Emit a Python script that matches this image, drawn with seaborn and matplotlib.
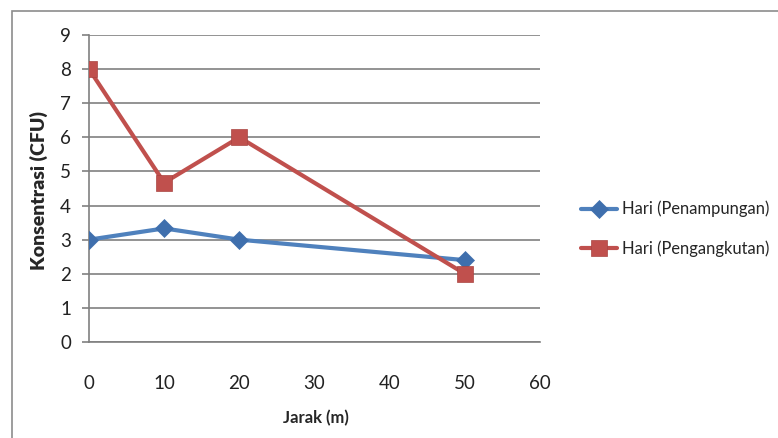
import matplotlib
matplotlib.use("Agg")
import matplotlib.pyplot as plt
from matplotlib.patches import Rectangle
import pandas as pd
import seaborn as sns

# Distance from source (m)
jarak = [0, 10, 20, 50]
# Concentration (CFU) per stage
penampungan = [3.0, 3.33, 3.0, 2.4]
pengangkutan = [8.0, 4.67, 6.0, 2.0]

series_names = ["Hari (Penampungan)", "Hari (Pengangkutan)"]
x_ticks = [0, 10, 20, 30, 40, 50, 60]
y_ticks = [0, 1, 2, 3, 4, 5, 6, 7, 8, 9]

df = pd.DataFrame({
    "Jarak": jarak * 2,
    "Konsentrasi": penampungan + pengangkutan,
    "Seri": [series_names[0]] * len(jarak) + [series_names[1]] * len(jarak),
})

sns.set_theme(style="white")
plt.rcParams["font.family"] = ["Lato", "DejaVu Sans"]

fig = plt.figure(figsize=(7.78, 4.38), dpi=100)
ax = fig.add_axes([89 / 778, 1 - 342 / 438, (540 - 89) / 778, (342 - 35) / 438])

# Chart-area frame
fig.patches.append(Rectangle((12 / 778, -0.05), 1.0, 1 - 11 / 438 + 0.05,
                             transform=fig.transFigure, fill=False,
                             edgecolor="#8c8c8c", linewidth=1.2, zorder=0))

styles = {
    series_names[0]: dict(color="#4F81BD", marker="D", ms=9, mfc="#3F6FAD", mec="#3F6FAD"),
    series_names[1]: dict(color="#C0504D", marker="s", ms=11, mfc="#C0504D", mec="#A94441"),
}

for name in series_names:
    sub = df[df["Seri"] == name]
    st = styles[name]
    sns.lineplot(data=sub, x="Jarak", y="Konsentrasi", ax=ax, label=name,
                 color=st["color"], linewidth=3, marker=st["marker"],
                 markersize=st["ms"], markerfacecolor=st["mfc"],
                 markeredgecolor=st["mec"], markeredgewidth=0.5, zorder=3)

ax.set_xlim(0, 60)
ax.set_ylim(0, 9)
ax.set_xticks(x_ticks)
ax.set_yticks(y_ticks)
ax.grid(axis="y", color="#808080", linewidth=1.2)
ax.set_axisbelow(True)
for side in ["top", "right"]:
    ax.spines[side].set_visible(False)
for side in ["left", "bottom"]:
    ax.spines[side].set_color("#808080")
    ax.spines[side].set_linewidth(1.2)

ax.tick_params(axis="y", which="major", left=True, length=5, width=1.2,
               color="#808080", pad=8, labelsize=13.5, labelcolor="#222222")
ax.tick_params(axis="x", which="major", bottom=False, pad=18,
               labelsize=13.5, labelcolor="#222222")

ax.set_xlabel("Jarak (m)", fontsize=12, fontweight="bold", labelpad=10)
ax.set_ylabel("Konsentrasi (CFU)", fontsize=14, fontweight="heavy", labelpad=8)
ax.xaxis.set_label_coords((316 - 89) / (540 - 89), -(410 - 342) / (342 - 35))
ax.yaxis.set_label_coords(-(89 - 48) / (540 - 89), (342 - 191) / (342 - 35))

ax.legend_.remove()
handles, labels = ax.get_legend_handles_labels()
fig.legend(handles, labels, loc="center left",
           bbox_to_anchor=(574 / 778, 1 - 229 / 438), frameon=False,
           fontsize=11.9, handlelength=2.2, handletextpad=0.3,
           labelspacing=1.4, borderaxespad=0)

fig.savefig("out.png", dpi=100, facecolor="white")
